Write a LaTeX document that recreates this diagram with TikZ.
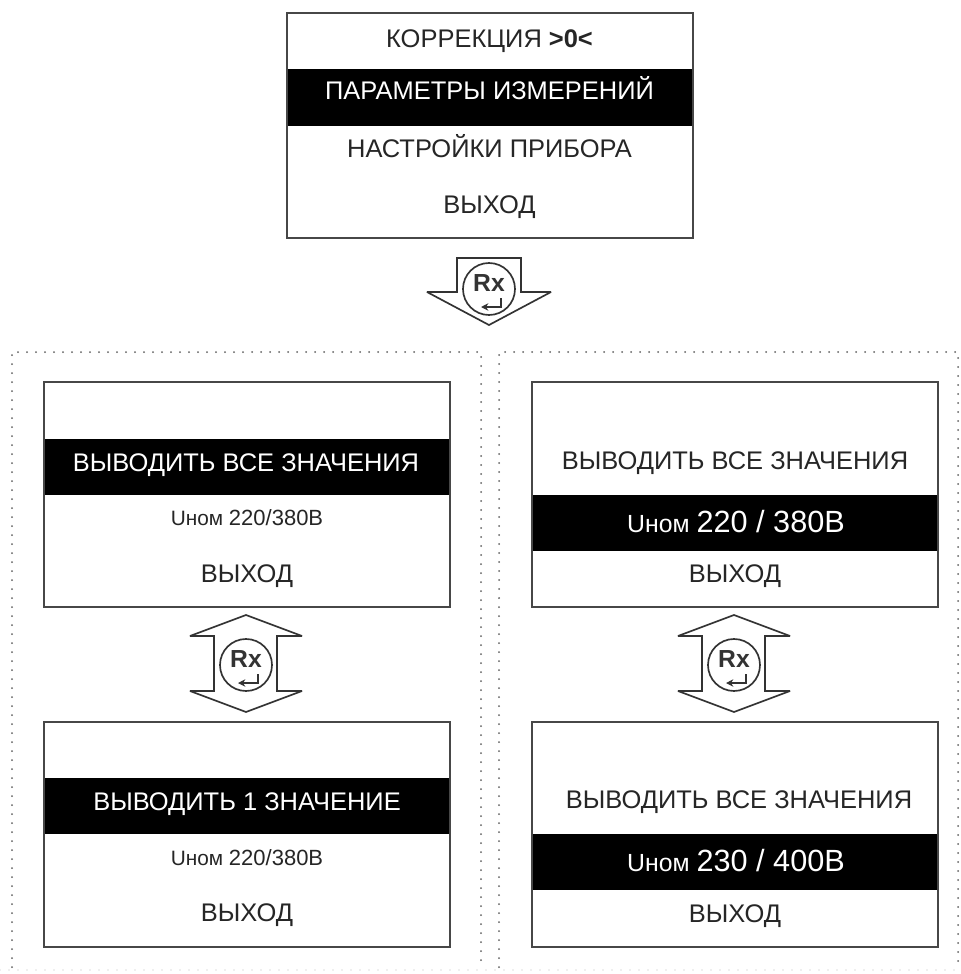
\documentclass[tikz,border=0pt]{standalone}
\usepackage{fontspec}
\setmainfont{Liberation Sans}
\usetikzlibrary{arrows.meta}
\newcommand{\txta}{\fontsize{19.1pt}{22pt}\selectfont}
\newcommand{\unom}{\fontsize{15.6pt}{18pt}\selectfont}
\newcommand{\unum}{\fontsize{16.5pt}{18pt}\selectfont}
\newcommand{\ubig}{\fontsize{18.6pt}{22pt}\selectfont}
\newcommand{\nbig}{\fontsize{23pt}{26pt}\selectfont}
\newcommand{\rxmark}[1]{%
  \node[rxcirc] (#1) at (#1pos) {};
  \node[rxlabel] (#1t) at ([yshift=-2.2pt]#1pos) {Rx};
  \draw[retpath] ([shift={(12,9)}]#1pos) -- ([shift={(12,18)}]#1pos) -- ([shift={(-8,18)}]#1pos);
}
\tikzset{
  x=0.75pt,y=-0.75pt,
  frame/.style={draw=black!72,line width=1.5pt,fill=white,minimum width=304.5pt,minimum height=168.75pt,inner sep=0pt},
  band/.style={fill=black,minimum width=303pt,minimum height=42pt,inner sep=0pt},
  plain/.style={text=black!85,inner sep=0pt,anchor=base,font=\txta},
  inv/.style={plain,text=white},
  arrowline/.style={draw=black!80,line width=1.25pt,line join=miter,miter limit=3,fill=white},
  rxcirc/.style={circle,draw=black!80,line width=1.25pt,minimum size=39pt,inner sep=0pt,fill=white},
  rxlabel/.style={font=\fontsize{18.5pt}{18pt}\selectfont\bfseries,text=black!80,inner sep=0pt,anchor=base},
  retpath/.style={draw=black!80,line width=1.5pt,-{Stealth[length=5.5pt,width=5.5pt]}},
  dots/.style={draw=black!62,line width=1.5pt,line cap=round,dash pattern=on 0pt off 6.75pt},
  faintdots/.style={draw=black!12,line width=1.2pt,line cap=round,dash pattern=on 0pt off 6.75pt},
}
\begin{document}
\begin{tikzpicture}
\useasboundingbox (0,0) rectangle (960,974);
\fill[white] (0,0) rectangle (960,974);
% dotted panels
\coordinate (pa) at (12,352); \coordinate (pb) at (481,352);
\coordinate (pc) at (481,967); \coordinate (pd) at (12,967);
\coordinate (qa) at (499,352); \coordinate (qb) at (958,352);
\coordinate (qc) at (958,967); \coordinate (qd) at (499,967);
\draw[faintdots] (0,970) -- (960,970);
\draw[dots] (pd) -- (pa) -- (pb) -- (pc);
\draw[dots] (qd) -- (qa) -- (qb) -- (qc);
% top menu
\node[frame] (m) at (489.5,125.5) {};
\node[band] (mb) at (489.5,97.5) {};
\node[plain] (m1) at (489.5,48) {КОРРЕКЦИЯ \textbf{>0<}};
\node[inv] (m2) at (489.5,99) {ПАРАМЕТРЫ ИЗМЕРЕНИЙ};
\node[plain] (m3) at (489.5,157) {НАСТРОЙКИ ПРИБОРА};
\node[plain] (m4) at (489.5,213) {ВЫХОД};
% left upper
\node[frame] (a) at (247,494.5) {};
\node[band] (ab) at (247,467) {};
\node[inv] (a2) at (246,471) {ВЫВОДИТЬ ВСЕ ЗНАЧЕНИЯ};
\node[plain] (a3) at (247,525) {\unom Uном \unum 220/380В};
\node[plain] (a4) at (247,582) {ВЫХОД};
% left lower
\node[frame] (b) at (247,834.5) {};
\node[band] (bb) at (247,806) {};
\node[inv] (b2) at (247,810) {ВЫВОДИТЬ 1 ЗНАЧЕНИЕ};
\node[plain] (b3) at (247,865) {\unom Uном \unum 220/380В};
\node[plain] (b4) at (247,921) {ВЫХОД};
% right upper
\node[frame] (c) at (735,494.5) {};
\node[band] (cb) at (735,523) {};
\node[plain] (c2) at (735,469) {ВЫВОДИТЬ ВСЕ ЗНАЧЕНИЯ};
\node[inv] (c3) at (736,532) {\ubig Uном \nbig 220 / 380В};
\node[plain] (c4) at (735,582) {ВЫХОД};
% right lower
\node[frame] (d) at (735,834.5) {};
\node[band] (db) at (735,862) {};
\node[plain] (d2) at (739,808) {ВЫВОДИТЬ ВСЕ ЗНАЧЕНИЯ};
\node[inv] (d3) at (736,871) {\ubig Uном \nbig 230 / 400В};
\node[plain] (d4) at (735,922) {ВЫХОД};
% arrows
\draw[arrowline] (457,258) -- (521,258) -- (521,292) -- (551,292) -- (489,325) -- (427,292) -- (457,292) -- cycle;
\coordinate (rpos) at (489,289);
\rxmark{r}
\foreach \n/\cx in {s/246,u/734}{
  \draw[arrowline] (\cx,615) -- ({\cx+56},636) -- ({\cx+31},636) -- ({\cx+31},691) -- ({\cx+56},691) -- (\cx,712) -- ({\cx-56},691) -- ({\cx-32},691) -- ({\cx-32},636) -- ({\cx-56},636) -- cycle;
  \coordinate (\n pos) at (\cx,665);
  \rxmark{\n}
}
\end{tikzpicture}
\end{document}
